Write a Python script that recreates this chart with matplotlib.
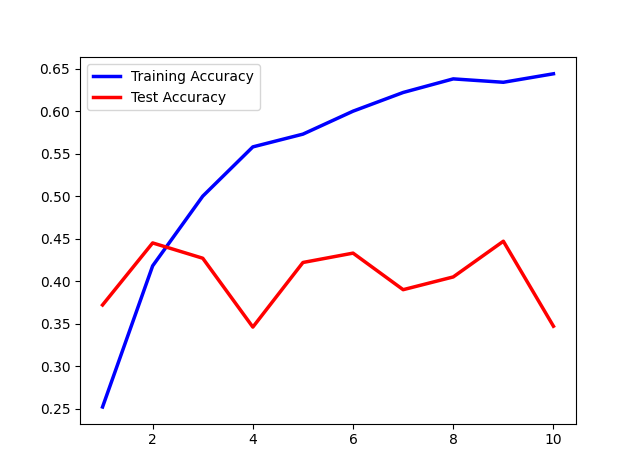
import matplotlib
matplotlib.use('Agg')
import matplotlib.pyplot as plt

epochs = [1, 2, 3, 4, 5, 6, 7, 8, 9, 10]
train_acc = [0.252, 0.418, 0.500, 0.558, 0.573, 0.600, 0.622, 0.638, 0.634, 0.644]
test_acc = [0.372, 0.445, 0.427, 0.346, 0.422, 0.433, 0.390, 0.405, 0.447, 0.347]

fig, ax = plt.subplots(figsize=(6.4, 4.76), dpi=100)
ax.plot(epochs, train_acc, color='blue', linewidth=2.5, label='Training Accuracy')
ax.plot(epochs, test_acc, color='red', linewidth=2.5, label='Test Accuracy')
ax.legend(loc='upper left')
plt.savefig('out.png', dpi=100)
